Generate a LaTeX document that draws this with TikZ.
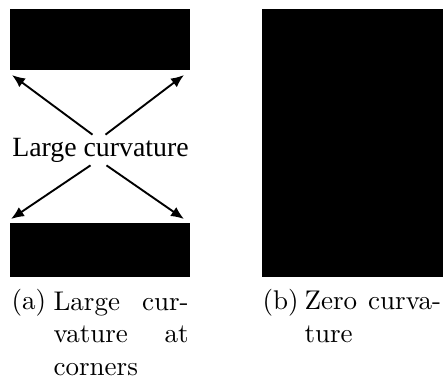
\documentclass[tikz,border=0pt]{standalone}
\usepackage{fontspec}
\usepackage{tikz}
\usetikzlibrary{arrows.meta,calc,positioning}
\newfontfamily\labelfont{Liberation Serif}
\definecolor{cink}{HTML}{000000}

\begin{document}
\begin{tikzpicture}[
    x=0.37pt, y=-0.37pt,
    >={Latex[length=4.8pt,width=4pt]},
    block/.style={fill=cink, draw=none},
    arr/.style={->, draw=cink, line width=0.7pt},
    lbl/.style={font=\labelfont\fontsize{10.3}{12}\selectfont, text=cink, inner sep=1pt},
    captxt/.style={font=\normalsize, text=cink, inner sep=0pt, align=left},
  ]
  \useasboundingbox (0,0) rectangle (443,378);
  % (a) two blocks with the label between them
  \fill[block] (10,9) rectangle (190,70);
  \fill[block] (10,223) rectangle (190,277);
  \node[lbl] (lc) at (100.5,150) {Large curvature};
  \coordinate (tl) at (12,75);
  \coordinate (tr) at (184,75);
  \coordinate (bl) at (11,219);
  \coordinate (br) at (184,219);
  \draw[arr] ($(lc.north)+(-8,0)$) -- (tl);
  \draw[arr] ($(lc.north)+(5,0)$) -- (tr);
  \draw[arr] ($(lc.south)+(-10,0)$) -- (bl);
  \draw[arr] ($(lc.south)+(6,0)$) -- (br);
  % (b) one block
  \fill[block] (262,9) rectangle (443,277);
  % captions (base = baseline of the last line)
  \node[captxt, anchor=base west] (capa) at (11,309) {(a)};
  \node[captxt, anchor=base west] (capatext) at (53,375)
    {\makebox[50pt][s]{Large cur-}\\\makebox[50pt][s]{vature at}\\corners};
  \node[captxt, anchor=base west] (capb) at (262,309) {(b)};
  \node[captxt, anchor=base west] (capbtext) at (304,342)
    {\makebox[50.5pt][s]{Zero curva-}\\ture};
\end{tikzpicture}
\end{document}
